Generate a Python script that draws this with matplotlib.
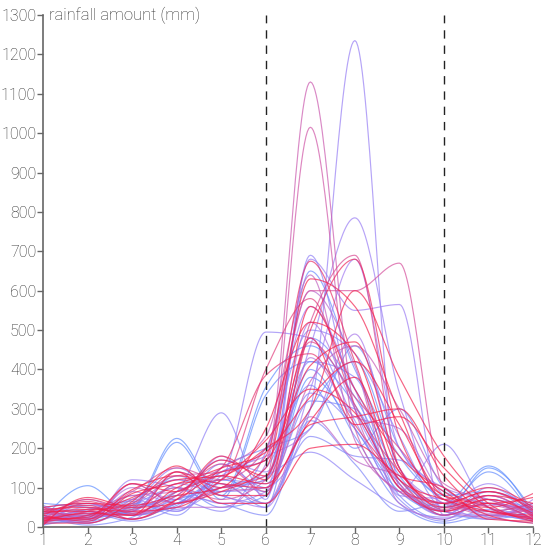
import numpy as np
import matplotlib
matplotlib.use("Agg")
import matplotlib.pyplot as plt
from matplotlib.colors import LinearSegmentedColormap

plt.rcParams['font.family'] = ['Roboto', 'DejaVu Sans']

months = list(range(1, 13))
y_ticks = list(range(0, 1301, 100))
y_label = "rainfall amount (mm)"
marker_months = [6, 10]

# one row per year, ordered from oldest (blue) to newest (red)
rainfall = [
    [20, 105, 30, 60, 120, 90, 380, 250, 90, 40, 150, 40],
    [40, 30, 50, 225, 80, 355, 460, 330, 120, 60, 155, 30],
    [35, 25, 45, 215, 70, 335, 420, 310, 100, 50, 140, 25],
    [10, 15, 40, 90, 130, 60, 300, 420, 150, 30, 60, 20],
    [60, 50, 35, 70, 100, 120, 650, 400, 180, 70, 40, 60],
    [15, 20, 60, 40, 150, 200, 250, 460, 200, 80, 90, 30],
    [25, 10, 55, 100, 50, 80, 400, 230, 60, 10, 30, 15],
    [45, 40, 20, 60, 110, 50, 480, 350, 130, 40, 20, 40],
    [5, 30, 70, 120, 90, 150, 360, 200, 300, 100, 50, 20],
    [50, 60, 30, 55, 160, 100, 320, 300, 80, 20, 70, 45],
    [30, 5, 25, 80, 60, 30, 270, 160, 40, 60, 25, 10],
    [20, 45, 65, 30, 140, 170, 420, 380, 110, 30, 100, 35],
    [55, 25, 40, 130, 80, 60, 230, 180, 170, 90, 60, 50],
    [10, 35, 15, 50, 120, 110, 340, 250, 70, 15, 45, 20],
    [35, 55, 50, 70, 40, 190, 500, 440, 230, 50, 80, 25],
    [15, 20, 80, 45, 100, 130, 190, 120, 50, 25, 30, 15],
    [20, 30, 45, 90, 290, 70, 690, 300, 120, 30, 60, 40],
    [30, 10, 110, 60, 120, 495, 480, 270, 90, 210, 50, 20],
    [40, 20, 60, 150, 90, 100, 300, 1235, 100, 40, 30, 60],
    [10, 40, 30, 80, 170, 140, 460, 785, 340, 60, 110, 30],
    [25, 15, 120, 100, 60, 90, 680, 550, 565, 30, 90, 50],
    [50, 35, 70, 40, 130, 200, 560, 350, 80, 70, 40, 25],
    [5, 60, 20, 110, 80, 50, 350, 680, 200, 100, 70, 35],
    [35, 20, 90, 60, 140, 180, 250, 490, 150, 60, 20, 70],
    [15, 50, 40, 140, 100, 120, 520, 300, 110, 30, 60, 15],
    [45, 25, 100, 70, 180, 80, 430, 280, 250, 80, 35, 45],
    [20, 70, 35, 50, 50, 160, 600, 410, 60, 20, 80, 30],
    [30, 10, 55, 120, 110, 60, 280, 170, 130, 50, 55, 20],
    [10, 40, 80, 90, 150, 230, 640, 220, 90, 40, 25, 55],
    [40, 30, 30, 60, 90, 100, 370, 460, 300, 110, 70, 35],
    [25, 20, 70, 130, 140, 170, 1130, 300, 110, 40, 60, 30],
    [15, 45, 50, 100, 70, 120, 1015, 250, 90, 60, 30, 45],
    [35, 30, 90, 150, 120, 200, 600, 600, 670, 100, 50, 20],
    [20, 60, 40, 80, 160, 90, 520, 690, 150, 40, 80, 25],
    [50, 20, 110, 60, 100, 130, 470, 330, 200, 70, 40, 60],
    [10, 70, 45, 110, 120, 400, 580, 310, 140, 45, 70, 30],
    [30, 65, 35, 90, 150, 385, 440, 260, 120, 30, 60, 20],
    [20, 40, 60, 140, 100, 180, 675, 420, 100, 60, 90, 40],
    [40, 55, 20, 70, 180, 120, 500, 680, 230, 80, 50, 85],
    [15, 30, 75, 120, 130, 200, 300, 600, 380, 180, 60, 15],
    [5, 75, 50, 60, 90, 150, 630, 560, 290, 70, 100, 50],
    [25, 20, 95, 130, 110, 100, 260, 280, 300, 130, 40, 25],
    [45, 50, 30, 100, 140, 170, 410, 470, 150, 50, 80, 60],
    [10, 10, 65, 155, 80, 80, 560, 350, 180, 90, 30, 10],
    [35, 45, 40, 50, 120, 220, 350, 290, 100, 40, 70, 35],
    [20, 25, 110, 90, 170, 130, 480, 260, 280, 150, 50, 20],
    [50, 60, 55, 80, 100, 250, 520, 440, 140, 60, 90, 45],
    [15, 35, 30, 140, 60, 60, 200, 210, 130, 100, 20, 15],
    [30, 15, 85, 110, 150, 190, 330, 420, 260, 80, 60, 75],
    [40, 40, 20, 70, 130, 110, 270, 380, 120, 70, 40, 30],
]


def monotone_curve(x, y, steps=30):
    # same idea as d3.curveMonotoneX
    x = np.asarray(x, float)
    y = np.asarray(y, float)
    h = np.diff(x)
    s = np.diff(y) / h
    n = len(x)
    t = np.zeros(n)
    for i in range(1, n - 1):
        s0, s1 = s[i - 1], s[i]
        p = (s0 * h[i] + s1 * h[i - 1]) / (h[i - 1] + h[i])
        sg0 = -1 if s0 < 0 else 1
        sg1 = -1 if s1 < 0 else 1
        t[i] = (sg0 + sg1) * min(abs(s0), abs(s1), 0.5 * abs(p))
    t[0] = (3 * s[0] - t[1]) / 2
    t[-1] = (3 * s[-1] - t[-2]) / 2
    xs, ys = [], []
    for i in range(n - 1):
        u = np.linspace(0, 1, steps, endpoint=(i == n - 2))
        h00 = 2 * u**3 - 3 * u**2 + 1
        h10 = u**3 - 2 * u**2 + u
        h01 = -2 * u**3 + 3 * u**2
        h11 = u**3 - u**2
        xs.append(x[i] + u * h[i])
        ys.append(h00 * y[i] + h10 * h[i] * t[i] + h01 * y[i + 1] + h11 * h[i] * t[i + 1])
    return np.concatenate(xs), np.concatenate(ys)


cmap = LinearSegmentedColormap.from_list(
    "yr", [(0.0, "#5f8fff"), (0.45, "#a27af2"), (0.65, "#d4509e"),
           (0.8, "#f2224f"), (1.0, "#f51a48")])

fig = plt.figure(figsize=(5.43, 5.47), dpi=100)
ax = fig.add_axes([0.0795, 0.0365, 0.9021, 0.9361])

count = len(rainfall)
for i, row in enumerate(rainfall):
    cx, cy = monotone_curve(months, row)
    ax.plot(cx, cy, color=cmap(i / (count - 1)), lw=0.85, alpha=0.7)

for m in marker_months:
    ax.plot([m, m], [0, 1300], color="#222222", lw=1.0, dashes=(6, 5))

ax.set_xlim(1, 12)
ax.set_ylim(0, 1300)
ax.set_xticks(months)
ax.set_yticks(y_ticks)
for side in ["top", "right"]:
    ax.spines[side].set_visible(False)
for side in ["left", "bottom"]:
    ax.spines[side].set_color("#666666")
    ax.spines[side].set_linewidth(1.2)
ax.tick_params(colors="#666666", labelcolor="#2a2a2a", labelsize=11.5, length=4, width=1)
ax.tick_params(axis="x", pad=0.5)
ax.tick_params(axis="y", pad=1)
for lbl in ax.get_xticklabels() + ax.get_yticklabels():
    lbl.set_fontweight("light")

ax.text(1.12, 1300, y_label, ha="left", va="center", fontsize=12,
        color="#2a2a2a", fontweight="light")

fig.savefig("out.png", dpi=100)
